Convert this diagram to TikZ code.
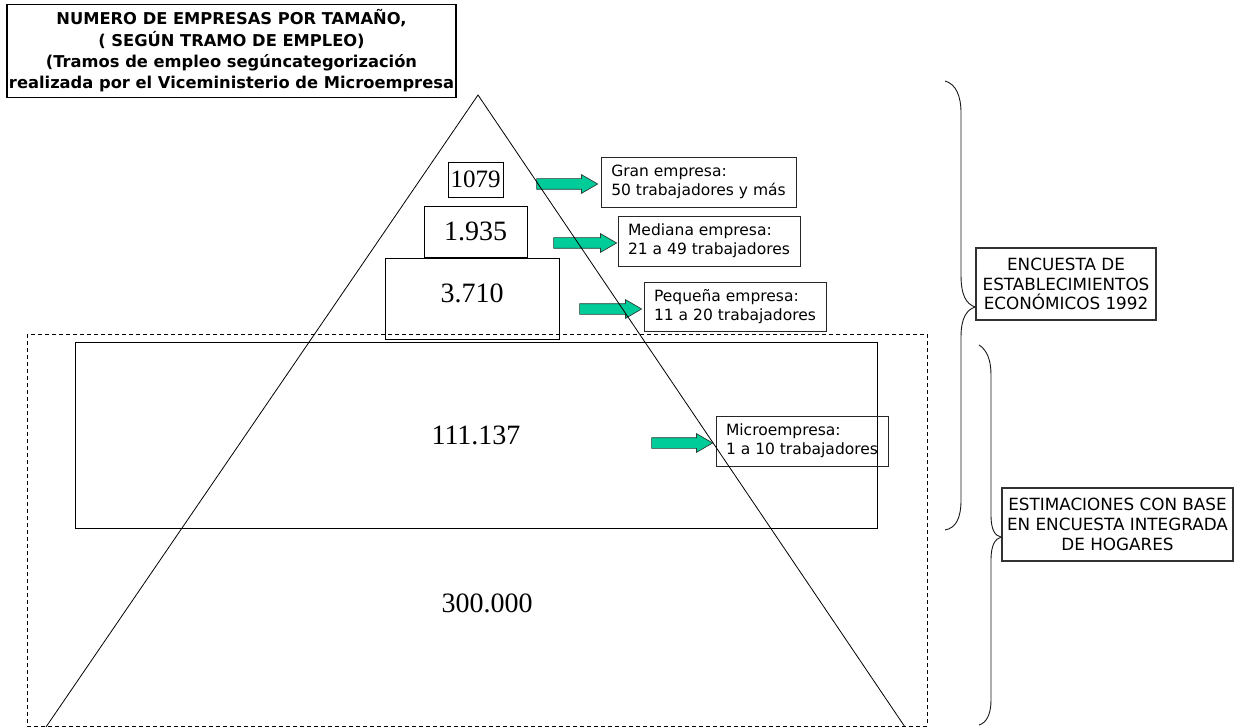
\documentclass[tikz,border=0pt]{standalone}
\usepackage{fontspec}
\setmainfont{DejaVu Sans}
\newfontfamily\numfont{Liberation Serif}
\usetikzlibrary{shapes.arrows}
\definecolor{arrowgreen}{RGB}{0,204,153}
\definecolor{arrowedge}{RGB}{40,60,50}
\definecolor{boxedge}{RGB}{50,50,50}
\tikzset{
  thinline/.style={line width=0.8pt, draw=black},
  numbox/.style={thinline, inner sep=0pt, font=\numfont\fontsize{28}{30}\selectfont},
  labelbox/.style={draw=black!85, line width=0.8pt, inner xsep=2pt, inner ysep=0pt, align=left, font=\fontsize{15.5}{19}\selectfont},
  surveybox/.style={draw=boxedge, line width=1.8pt, inner sep=0pt, align=center, font=\fontsize{16.8}{19.8}\selectfont},
  blockarrow/.style={single arrow, draw=arrowedge, fill=arrowgreen, line width=0.7pt, inner xsep=0pt, inner ysep=5pt, single arrow head extend=4pt, single arrow tip angle=60, minimum height=#1},
  bracepath/.style={line width=0.9pt, draw=black!90}
}
\begin{document}
\begin{tikzpicture}[x=1pt,y=-1pt]
\useasboundingbox (0,0) rectangle (1241,727);
% title
\node[draw=black, line width=1.6pt, minimum width=449pt, minimum height=93pt, inner sep=0pt, align=center, font=\bfseries\fontsize{16.3}{21.3}\selectfont] (title) at (231.5,51)
 {NUMERO DE EMPRESAS POR TAMAÑO,\\( SEGÚN TRAMO DE EMPLEO)\\(Tramos de empleo segúncategorización\\realizada por el Viceministerio de Microempresa};
% dashed region
\draw[line width=0.8pt, dash pattern=on 4pt off 3pt] (27,334) rectangle (927,726);
% number boxes
\node[numbox, font=\numfont\fontsize{25}{27}\selectfont, minimum width=55pt, minimum height=35pt] (n1079) at (475.5,179.5) {1079};
\node[numbox, minimum width=103pt, minimum height=51pt] (n1935) at (475.5,231.5) {1.935};
\node[numbox, minimum width=174pt, minimum height=81pt, text depth=10pt] (n3710) at (472,298.5) {3.710};
\node[numbox, minimum width=802pt, minimum height=186pt] (n111) at (476,435) {111.137};
\node[inner sep=0pt, font=\numfont\fontsize{28}{30}\selectfont] (n300) at (487,603) {300.000};
% label boxes
\node[labelbox, minimum width=195pt, minimum height=50pt] (gran) at (698.5,182) {Gran empresa:\\50 trabajadores y más};
\node[labelbox, minimum width=182pt, minimum height=50pt] (mediana) at (709,241) {Mediana empresa:\\21 a 49 trabajadores};
\node[labelbox, minimum width=182pt, minimum height=49pt] (pequena) at (735,306.5) {Pequeña empresa:\\11 a 20 trabajadores};
\node[labelbox, minimum width=172pt, minimum height=50pt] (micro) at (802,441) {Microempresa:\\1 a 10 trabajadores};
% block arrows
\node[blockarrow=61pt] (a1) at (562.5,184) {};
\node[blockarrow=63pt] (a2) at (580.5,243) {};
\node[blockarrow=62pt] (a3) at (606,309) {};
\node[blockarrow=61pt] (a4) at (677.5,443) {};
% triangle
\coordinate (apex) at (478,95);
\coordinate (bl) at (46,727);
\coordinate (br) at (905,727);
\draw[line width=0.8pt] (bl) -- (apex) -- (br);
% survey boxes
\node[surveybox, minimum width=180pt, minimum height=72pt] (encuesta) at (1066,284) {ENCUESTA DE\\ESTABLECIMIENTOS\\ECONÓMICOS 1992};
\node[surveybox, minimum width=231pt, minimum height=73pt] (estim) at (1117.5,524.5) {ESTIMACIONES CON BASE\\EN ENCUESTA INTEGRADA\\DE HOGARES};
% braces
\coordinate (b1top) at (945,81);
\coordinate (b1bot) at (945,530);
\draw[bracepath] (b1top) .. controls (956,84) and (961,96) .. (961,113) -- (961,275)
  .. controls (961,295) and (966,304) .. (encuesta.west|-0,307)
  .. controls (966,310) and (961,319) .. (961,337) -- (961,500)
  .. controls (961,518) and (956,528) .. (b1bot);
\coordinate (b2top) at (979,345);
\coordinate (b2bot) at (979,725);
\draw[bracepath] (b2top) .. controls (987,350) and (991,360) .. (991,375) -- (991,515)
  .. controls (991,530) and (995,536) .. (estim.west|-0,537)
  .. controls (995,539) and (991,545) .. (991,560) -- (991,700)
  .. controls (991,715) and (986,723) .. (b2bot);
\end{tikzpicture}
\end{document}
